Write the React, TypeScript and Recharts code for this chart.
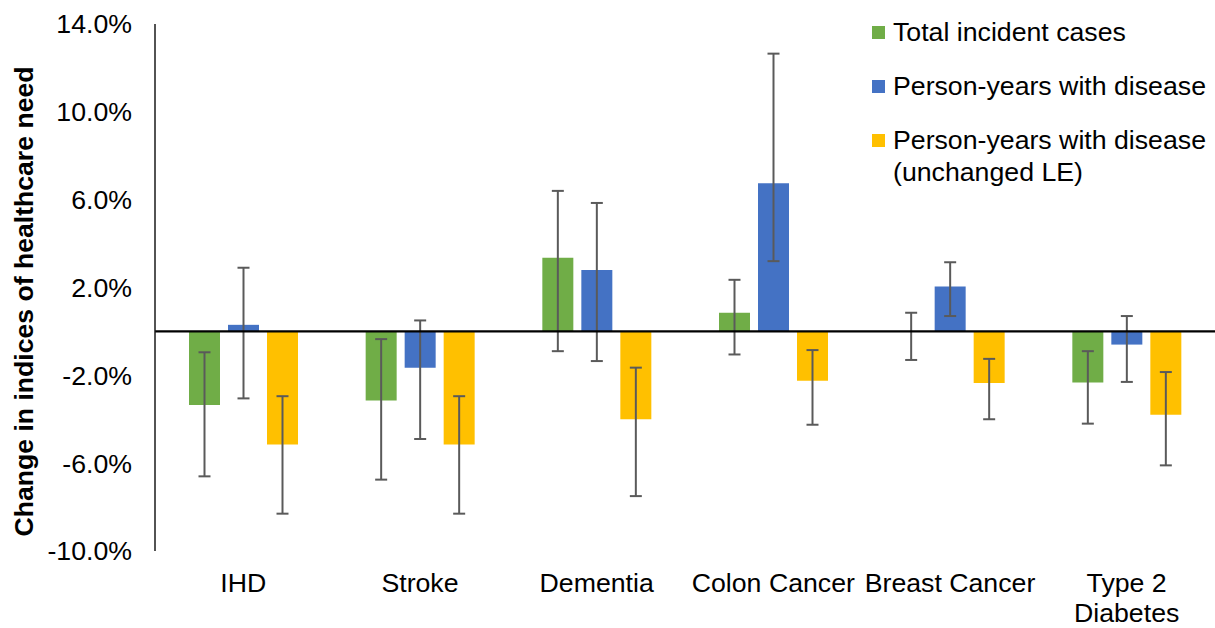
import React from "react";
import {
  BarChart,
  Bar,
  XAxis,
  YAxis,
  ErrorBar,
  ReferenceLine,
  Legend,
} from "recharts";

// change in each index (%) with the 95% interval bounds per disease
const categories = ["IHD", "Stroke", "Dementia", "Colon Cancer", "Breast Cancer", "Type 2 Diabetes"];

const incident = [-3.35, -3.15, 3.35, 0.85, 0.02, -2.33];
const incidentLow = [-6.6, -6.75, -0.9, -1.05, -1.3, -4.2];
const incidentHigh = [-0.95, -0.35, 6.4, 2.35, 0.85, -0.9];

const personYears = [0.3, -1.65, 2.8, 6.75, 2.05, -0.6];
const personYearsLow = [-3.05, -4.9, -1.35, 3.2, 0.7, -2.3];
const personYearsHigh = [2.9, 0.5, 5.85, 12.65, 3.15, 0.7];

const unchangedLE = [-5.15, -5.15, -4.0, -2.25, -2.35, -3.8];
const unchangedLELow = [-8.3, -8.3, -7.5, -4.25, -4.0, -6.1];
const unchangedLEHigh = [-2.95, -2.95, -1.65, -0.85, -1.25, -1.85];

const yTicks = [-10, -6, -2, 2, 6, 10, 14];

const seriesNames = [
  "Total incident cases",
  "Person-years with disease",
  "Person-years with disease (unchanged LE)",
];

const COLORS = ["#70AD47", "#4472C4", "#FFC000"];
const FONT = 26.7;

// ErrorBar wants [below, above] distances from the bar value
const err = (v: number, lo: number, hi: number) => [v - lo, hi - v];

const rows = categories.map((name, i) => ({
  name,
  incident: incident[i],
  incidentErr: err(incident[i], incidentLow[i], incidentHigh[i]),
  personYears: personYears[i],
  personYearsErr: err(personYears[i], personYearsLow[i], personYearsHigh[i]),
  unchangedLE: unchangedLE[i],
  unchangedLEErr: err(unchangedLE[i], unchangedLELow[i], unchangedLEHigh[i]),
}));

function wrapLabel(text: string, max = 13) {
  const lines: string[] = [];
  let cur = "";
  for (const w of text.split(" ")) {
    const next = cur ? cur + " " + w : w;
    if (next.length > max && cur) {
      lines.push(cur);
      cur = w;
    } else {
      cur = next;
    }
  }
  if (cur) lines.push(cur);
  return lines;
}

function CategoryTick(props: any) {
  const { x, y, payload } = props;
  const lines = wrapLabel(String(payload.value));
  return (
    <text x={x} y={y} textAnchor="middle" fontSize={FONT} fill="#000">
      {lines.map((l, i) => (
        <tspan key={i} x={x} dy={i === 0 ? 41 : 30}>
          {l}
        </tspan>
      ))}
    </text>
  );
}

function AxisTitle(props: any) {
  const vb = props.viewBox || { x: 0, y: 0, height: 0 };
  const cx = vb.x + 33;
  const cy = vb.y + vb.height / 2 + 14;
  return (
    <text
      transform={`translate(${cx}, ${cy}) rotate(-90)`}
      textAnchor="middle"
      fontSize={26.6}
      fontWeight="bold"
      fill="#000"
    >
      Change in indices of healthcare need
    </text>
  );
}

function LegendBox(props: any) {
  // keep the series order rather than the alphabetical one
  const payload = [...(props.payload || [])].sort(
    (a: any, b: any) => seriesNames.indexOf(a.value) - seriesNames.indexOf(b.value)
  );
  return (
    <div>
      {payload.map((entry: any, i: number) => {
        const name = String(entry.value);
        const cut = name.indexOf(" (");
        const lines = cut > 0 ? [name.slice(0, cut), name.slice(cut + 1)] : [name];
        return (
          <div key={i} style={{ display: "flex", alignItems: "flex-start", marginBottom: 22 }}>
            <span
              style={{
                width: 13,
                height: 13,
                marginTop: 9.5,
                marginRight: 8,
                background: entry.color,
                flex: "none",
              }}
            />
            <span style={{ fontSize: FONT, lineHeight: "32px", color: "#000", whiteSpace: "nowrap" }}>
              {lines.map((l, j) => (
                <div key={j}>{l}</div>
              ))}
            </span>
          </div>
        );
      })}
    </div>
  );
}

export default function App() {
  return (
    <div
      style={{
        position: "absolute",
        left: 0,
        top: 0,
        background: "#fff",
        fontFamily: '"Liberation Sans", Arial, sans-serif',
      }}
    >
      <BarChart
        width={1215}
        height={628}
        data={rows}
        margin={{ top: 24, right: 0, bottom: 0, left: 0 }}
        barSize={31}
        barGap={8}
      >
        <XAxis
          dataKey="name"
          height={77}
          axisLine={false}
          tickLine={false}
          tickSize={0}
          tickMargin={0}
          interval={0}
          tick={<CategoryTick />}
        />
        <YAxis
          width={155}
          domain={[-10, 14]}
          ticks={yTicks}
          allowDataOverflow
          tickFormatter={(v: number) => `${v.toFixed(1)}%`}
          tick={{ fontSize: FONT, fill: "#000" }}
          tickLine={false}
          tickSize={6}
          tickMargin={17}
          axisLine={{ stroke: "#1a1a1a", strokeWidth: 1.5 }}
          label={<AxisTitle />}
        />
        <Legend
          layout="horizontal"
          align="center"
          verticalAlign="middle"
          content={<LegendBox />}
          wrapperStyle={{ top: 16, left: 872, width: 343, height: "auto" }}
        />
        <Bar dataKey="incident" name={seriesNames[0]} fill={COLORS[0]} isAnimationActive={false}>
          <ErrorBar dataKey="incidentErr" width={6} stroke="#5a5a5a" strokeWidth={2} isAnimationActive={false} />
        </Bar>
        <Bar dataKey="personYears" name={seriesNames[1]} fill={COLORS[1]} isAnimationActive={false}>
          <ErrorBar dataKey="personYearsErr" width={6} stroke="#5a5a5a" strokeWidth={2} isAnimationActive={false} />
        </Bar>
        <Bar dataKey="unchangedLE" name={seriesNames[2]} fill={COLORS[2]} isAnimationActive={false}>
          <ErrorBar dataKey="unchangedLEErr" width={6} stroke="#5a5a5a" strokeWidth={2} isAnimationActive={false} />
        </Bar>
        <ReferenceLine y={0} stroke="#000" strokeWidth={2.25} />
      </BarChart>
    </div>
  );
}
